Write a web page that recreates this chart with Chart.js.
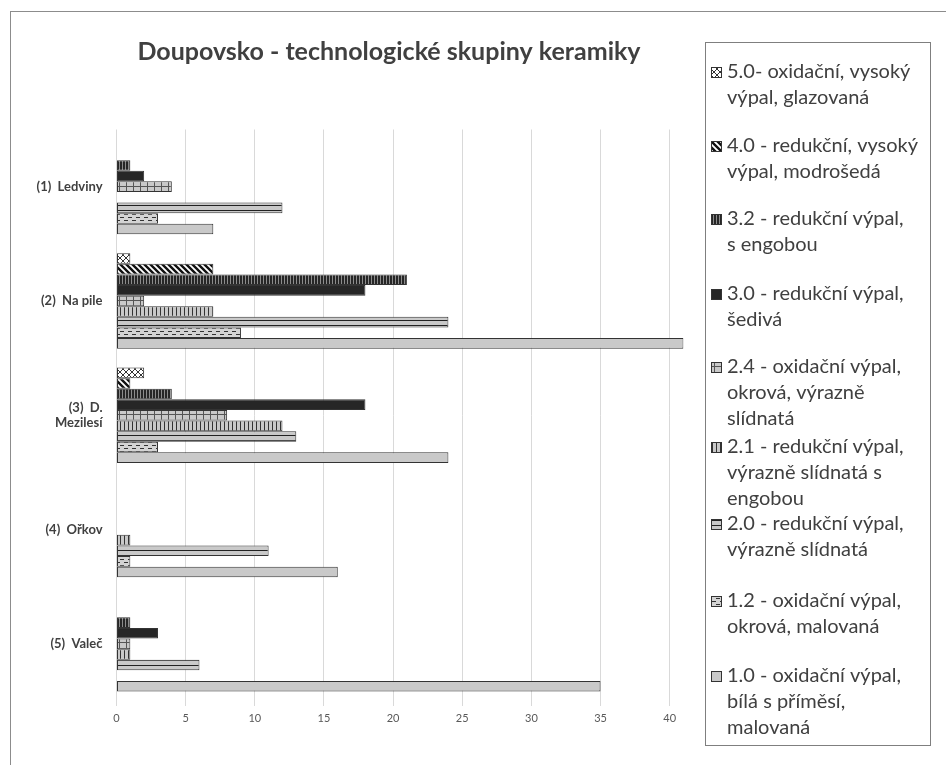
<!DOCTYPE html>
<html lang="cs">
<head>
<meta charset="UTF-8" />
<title>Doupovsko - technologické skupiny keramiky</title>
<style>
  html, body { margin: 0; padding: 0; background: #fff; }
  #wrap { width: 946px; height: 765px; position: relative; }
</style>
</head>
<body>
<div id="wrap"><canvas id="chart" width="946" height="765"></canvas></div>

<script src="https://cdn.jsdelivr.net/npm/chart.js@4"></script>
<script>
  // --- data ---
  const categories = ['(1)  Ledviny', '(2)  Na pile', ['(3)  D.', 'Mezilesí'], '(4)  Ořkov', '(5)  Valeč'];

  const seriesNames = [
    ['5.0- oxidační, vysoký', 'výpal, glazovaná'],
    ['4.0 - redukční, vysoký', 'výpal, modrošedá'],
    ['3.2 - redukční výpal,', 's engobou'],
    ['3.0 - redukční výpal,', 'šedivá'],
    ['2.4 - oxidační výpal,', 'okrová, výrazně', 'slídnatá'],
    ['2.1 - redukční výpal,', 'výrazně slídnatá s', 'engobou'],
    ['2.0 - redukční výpal,', 'výrazně slídnatá'],
    ['1.2 - oxidační výpal,', 'okrová, malovaná'],
    ['1.0 - oxidační výpal,', 'bílá s příměsí,', 'malovaná']
  ];

  const s50 = [0, 1, 2, 0, 0];
  const s40 = [0, 7, 1, 0, 0];
  const s32 = [1, 21, 4, 0, 1];
  const s30 = [2, 18, 18, 0, 3];
  const s24 = [4, 2, 8, 0, 1];
  const s21 = [0, 7, 12, 1, 1];
  const s20 = [12, 24, 13, 11, 6];
  const s12 = [3, 9, 3, 1, 0];
  const s10 = [7, 41, 24, 16, 35];

  const xTicks = [0, 5, 10, 15, 20, 25, 30, 35, 40];

  // --- fill patterns (Excel-like) ---
  const ctx = document.getElementById('chart').getContext('2d');
  const DARK = '#262626', LIGHT = '#c9c9c9';

  function makePattern(w, h, draw) {
    const c = document.createElement('canvas');
    c.width = w; c.height = h;
    draw(c.getContext('2d'), w, h);
    return ctx.createPattern(c, 'repeat');
  }

  const pCross = makePattern(6, 6, (g) => {
    g.fillStyle = '#fff'; g.fillRect(0, 0, 6, 6);
    g.strokeStyle = '#333'; g.lineWidth = 1;
    g.beginPath();
    g.moveTo(0, 0); g.lineTo(6, 6);
    g.moveTo(6, 0); g.lineTo(0, 6);
    g.stroke();
  });
  const pDiag = makePattern(6, 6, (g) => {
    g.fillStyle = '#fff'; g.fillRect(0, 0, 6, 6);
    g.strokeStyle = '#111'; g.lineWidth = 2.4;
    g.beginPath();
    [-6, 0, 6].forEach(k => { g.moveTo(k - 1, -1); g.lineTo(k + 7, 7); });
    g.stroke();
  });
  const pDarkV = makePattern(3, 1, (g) => {
    g.fillStyle = DARK; g.fillRect(0, 0, 3, 1);
    g.fillStyle = '#8c8c8c'; g.fillRect(2, 0, 1, 1);
  });
  const pGrid = makePattern(7, 6, (g) => {
    g.fillStyle = LIGHT; g.fillRect(0, 0, 7, 6);
    g.fillStyle = '#555'; g.fillRect(0, 0, 7, 1); g.fillRect(0, 0, 1, 6);
  });
  const pLightV = makePattern(4, 1, (g) => {
    g.fillStyle = LIGHT; g.fillRect(0, 0, 4, 1);
    g.fillStyle = '#333'; g.fillRect(0, 0, 1, 1);
  });
  const pHoriz = makePattern(1, 5, (g) => {
    g.fillStyle = LIGHT; g.fillRect(0, 0, 1, 5);
    g.fillStyle = '#222'; g.fillRect(0, 0, 1, 1);
  });
  const pDash = makePattern(8, 6, (g) => {
    g.fillStyle = '#d4d4d4'; g.fillRect(0, 0, 8, 6);
    g.fillStyle = '#333'; g.fillRect(0, 1, 4, 1); g.fillRect(4, 4, 4, 1);
  });

  const series = [s50, s40, s32, s30, s24, s21, s20, s12, s10];
  const fills = [pCross, pDiag, pDarkV, DARK, pGrid, pLightV, pHoriz, pDash, LIGHT];

  const datasets = series.map((vals, i) => ({
    label: seriesNames[i].join(' '),
    data: vals,
    backgroundColor: fills[i],
    borderColor: '#333',
    // no outline for empty bars, Excel draws nothing there
    borderWidth: (c) => (c.raw === 0 ? 0 : 1),
    borderSkipped: false,
    barPercentage: 1,
    categoryPercentage: 0.835
  }));

  // title + frame + legend box drawn by hand so the plot can sit where Excel had it
  const decor = {
    id: 'decor',
    afterDraw(chart) {
      const c = chart.ctx;
      c.save();
      c.strokeStyle = '#8c8c8c';
      c.lineWidth = 1;
      c.strokeRect(10.5, 11.5, 1000, 1000);

      c.fillStyle = '#404040';
      c.font = 'bold 25px Lato';
      c.textAlign = 'center';
      c.textBaseline = 'middle';
      c.fillText('Doupovsko - technologické skupiny keramiky', 389, 52);

      // legend
      c.fillStyle = '#fff';
      c.fillRect(705, 42, 225, 703);
      c.strokeStyle = '#7f7f7f';
      c.strokeRect(705.5, 42.5, 225, 703);
      const rows = [72, 146, 219, 294, 367, 447, 524, 601, 676];
      c.font = '20px Lato';
      c.textAlign = 'left';
      seriesNames.forEach((lines, i) => {
        const y = rows[i];
        c.fillStyle = fills[i];
        c.fillRect(711, y - 5, 11, 11);
        c.strokeStyle = '#333';
        c.strokeRect(711.5, y - 4.5, 10, 10);
        c.fillStyle = '#404040';
        lines.forEach((t, k) => c.fillText(t, 727, y + k * 26));
      });
      c.restore();
    }
  };

  new Chart(ctx, {
    type: 'bar',
    data: { labels: categories, datasets: datasets },
    options: {
      indexAxis: 'y',
      responsive: false,
      animation: false,
      layout: { padding: { left: 10, top: 129.5, right: 262.5, bottom: 34 } },
      plugins: {
        legend: { display: false },
        title: { display: false },
        tooltip: { enabled: false }
      },
      scales: {
        x: {
          min: 0,
          max: 41,
          afterBuildTicks: (axis) => { axis.ticks = xTicks.map(v => ({ value: v })); },
          afterFit: (axis) => { axis.height = 30; },
          grid: { color: '#d9d9d9', tickLength: 5, drawTicks: true },
          border: { display: false },
          ticks: { color: '#595959', font: { family: 'Lato', size: 11 }, padding: 6 }
        },
        y: {
          afterFit: (axis) => { axis.width = 106.5; },
          grid: { display: false, drawTicks: false },
          border: { display: false },
          ticks: { color: '#404040', font: { family: 'Lato', size: 13, weight: 'bold' }, padding: 14 }
        }
      }
    },
    plugins: [decor]
  });
</script>
</body>
</html>
